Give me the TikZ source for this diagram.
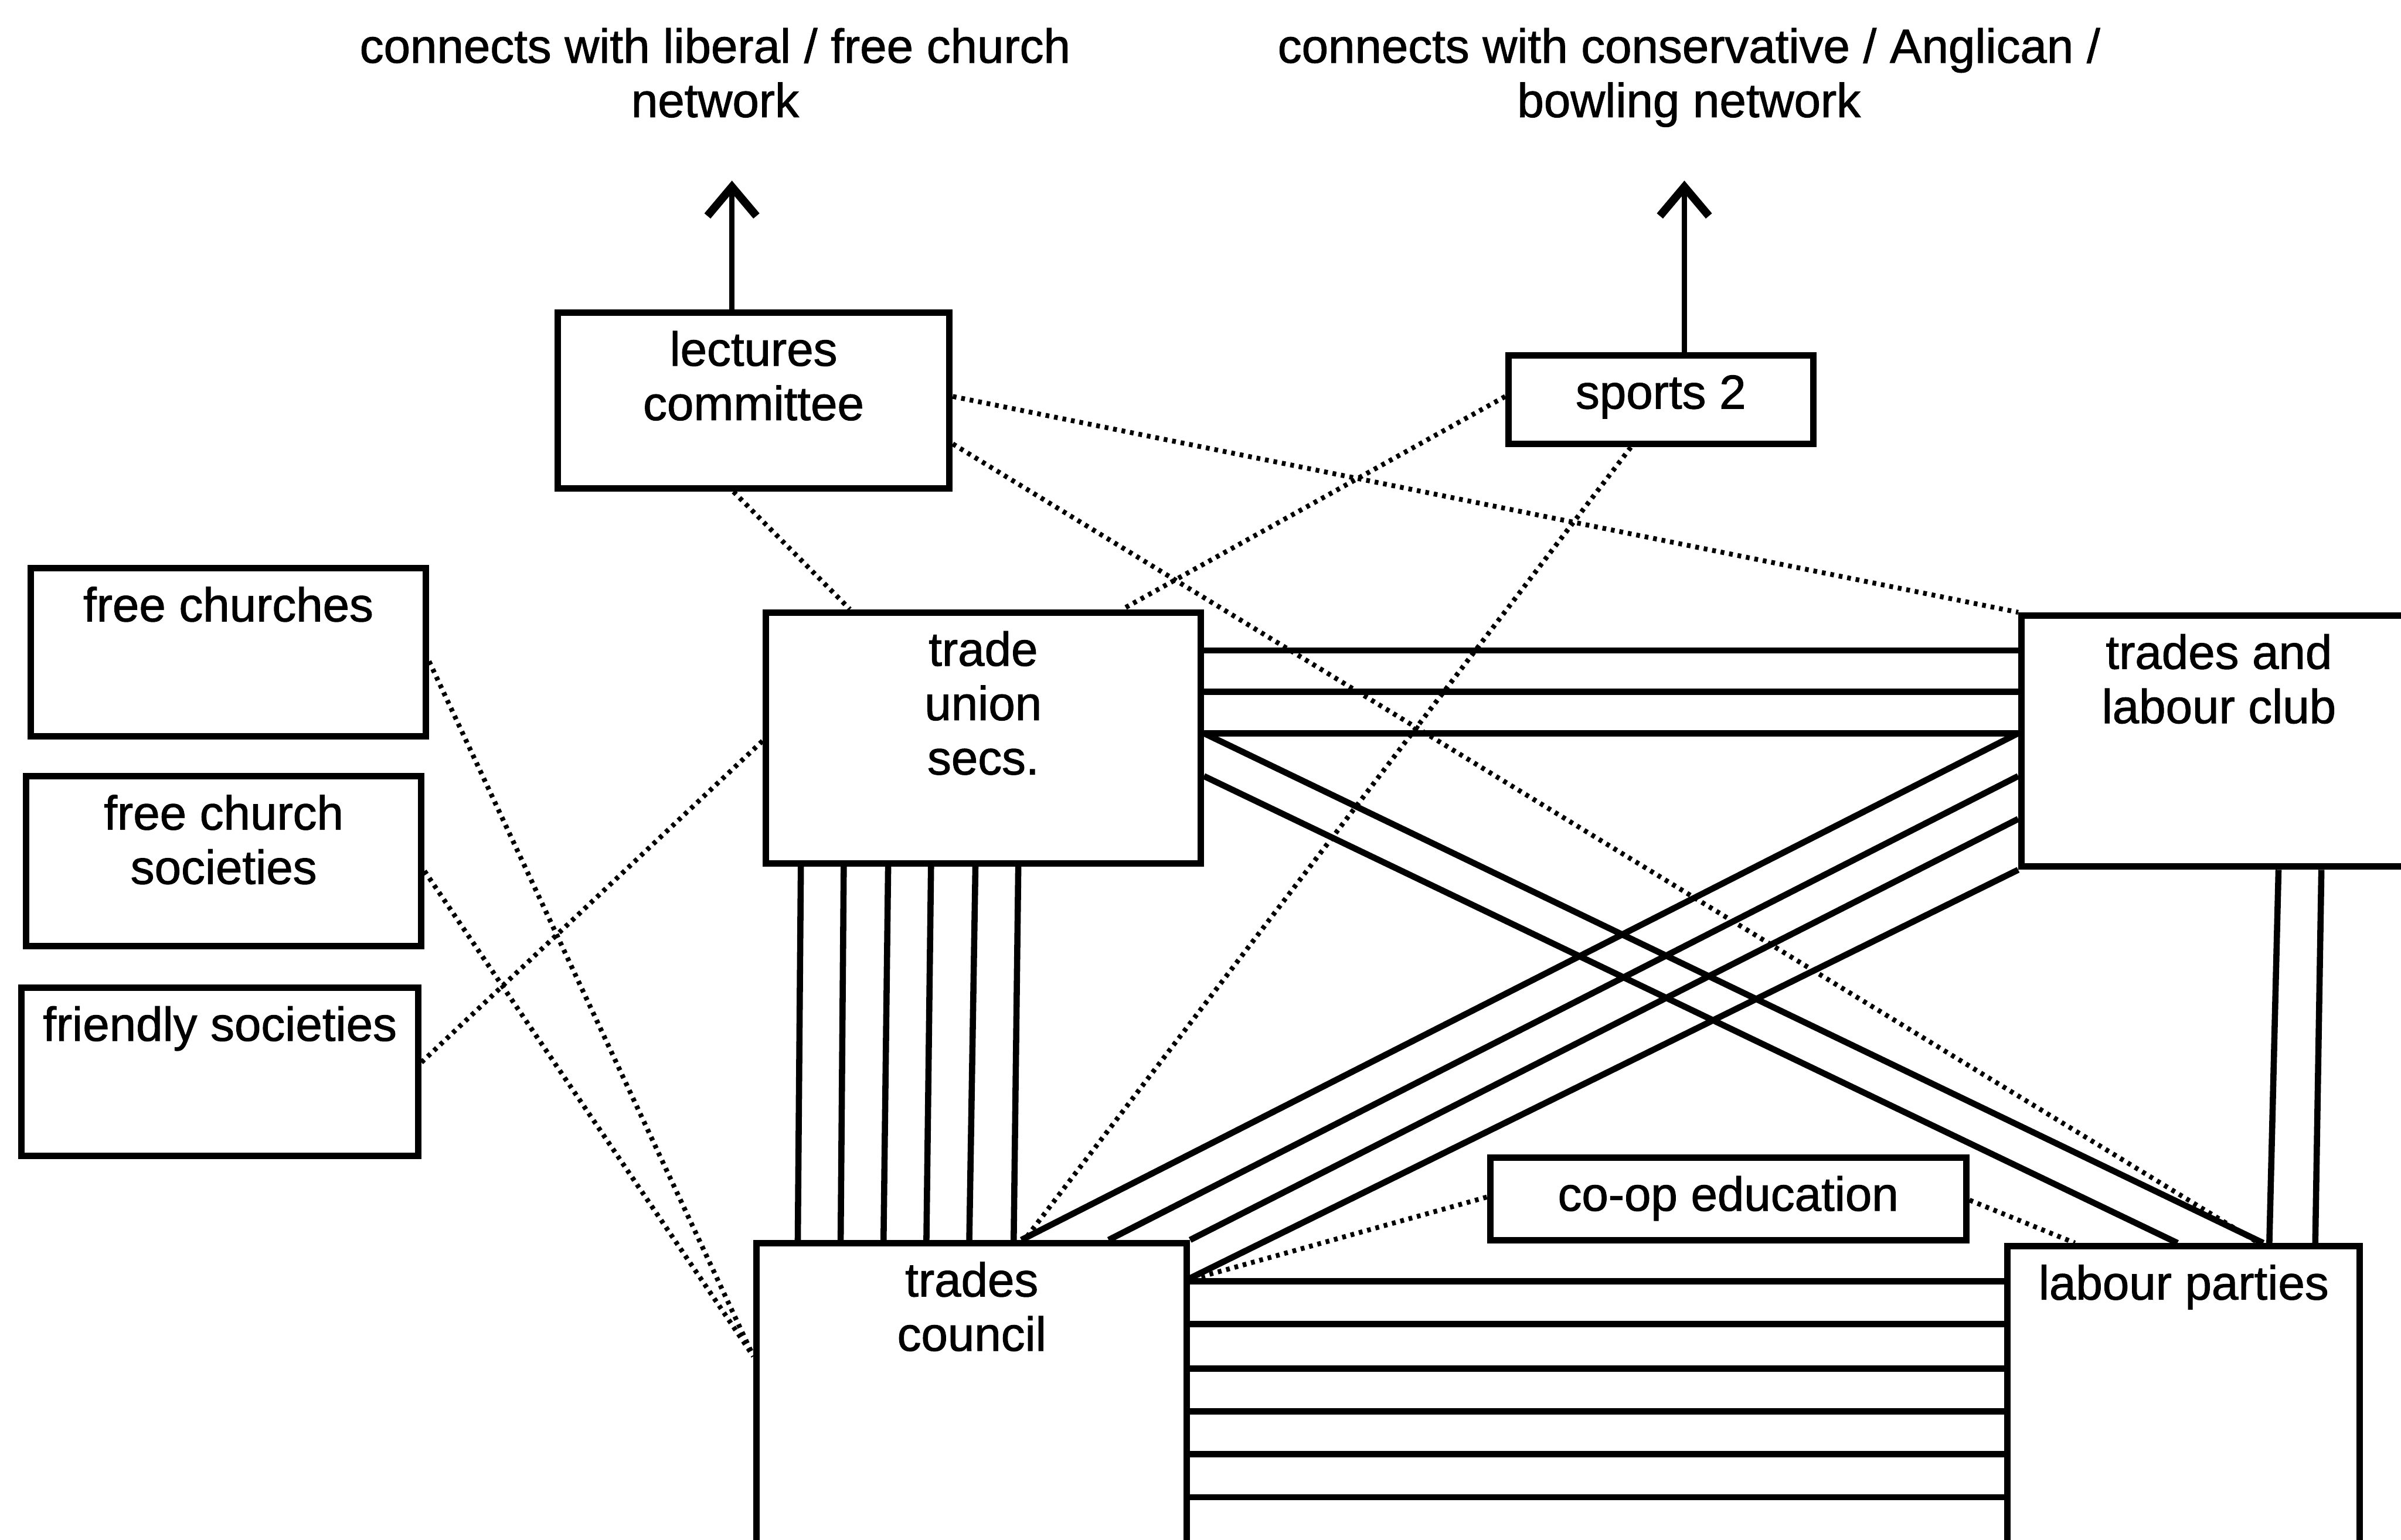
\documentclass[tikz,border=0pt]{standalone}
\usepackage{fontspec}
\setmainfont{Liberation Sans}[FakeBold=1.2]
\usetikzlibrary{calc,arrows.meta}
\newlength\pxu
\setlength\pxu{0.02cm}
% framed box body: width, height (in drawing units), text set near the top
\newcommand\boxbody[3]{\parbox[t][#2\pxu][t]{#1\pxu}{\centering\vspace*{10\pxu}\strut #3\par}}
% free-standing heading text
\newcommand\headbody[1]{\parbox[t]{14cm}{\centering\strut #1\par}}
\begin{document}
\begin{tikzpicture}[x=0.02cm, y=-0.02cm,
  font=\fontsize{17.8pt}{20.2pt}\selectfont,
  box/.style={draw, line width=2.4pt, inner sep=0pt, anchor=north west},
  head/.style={inner sep=0pt, anchor=base},
  link/.style={line width=2.3pt},
  weak/.style={line width=1.8pt, dash pattern=on 1.4pt off 1.8pt},
  outlink/.style={line width=2pt, -{Straight Barb[length=0.38cm, width=0.64cm, line width=1pt 1]}}]

\useasboundingbox (0,0) rectangle (1568,1006);
\fill[white] (0,0) rectangle (1568,1006);
\clip (0,0) rectangle (1568,1006);

% headings
\node[head] (libnet) at (467,41) {\headbody{connects with liberal / free church\\network}};
\node[head] (connet) at (1103,41) {\headbody{connects with conservative / Anglican /\\bowling network}};

% organisations
\node[box] (lec)  at (362,202)  {\boxbody{256}{115}{lectures\\committee}};
\node[box] (sp)   at (983,230)  {\boxbody{199}{58}{sports 2}};
\node[box] (fch)  at (18,369)   {\boxbody{258}{110}{free churches}};
\node[box] (fcs)  at (15,505)   {\boxbody{258}{111}{free church\\societies}};
\node[box] (frs)  at (12,643)   {\boxbody{259}{110}{friendly societies}};
\node[box] (tus)  at (498,398)  {\boxbody{284}{164}{trade\\union\\secs.}};
\node[box] (tlc)  at (1318,400) {\boxbody{258}{164}{trades and\\labour club}};
\node[box] (tc)   at (492,810)  {\boxbody{281}{210}{trades\\council}};
\node[box] (lp)   at (1309,812) {\boxbody{230}{210}{labour parties}};
\node[box] (coop) at (971,754)  {\boxbody{311}{54}{co-op education}};

% outward links to wider networks
\coordinate (libtip) at (478,118);
\coordinate (contip) at (1100,118);
\draw[outlink] (lec.north -| libtip) -- (libtip);
\draw[outlink] (sp.north -| contip) -- (contip);

% trade union secs. -- trades council
\foreach \a/\b in {25/29, 53/57, 82/85, 110/113, 139/141, 167/170}
  \draw[link] ($(tus.south west)+(\a,0)$) -- ($(tc.north west)+(\b,0)$);
% trade union secs. -- trades and labour club
\foreach \a/\b in {27/25, 54/52, 81/79}
  \draw[link] ($(tus.north east)+(0,\a)$) -- ($(tlc.north west)+(0,\b)$);
% trade union secs. -- labour parties
\draw[link] ($(tus.north east)+(0,81)$) -- ($(lp.north west)+(169,0)$);
\draw[link] ($(tus.north east)+(0,109)$) -- ($(lp.north west)+(113,0)$);
% trades and labour club -- trades council
\draw[link] ($(tlc.north west)+(0,79)$) -- ($(tc.north west)+(175,0)$);
\draw[link] ($(tlc.north west)+(0,107)$) -- ($(tc.north west)+(232,0)$);
\draw[link] ($(tlc.north west)+(0,135)$) -- (tc.north east);
\draw[link] (tlc.south west) -- ($(tc.north east)+(0,25)$);
% trades and labour club -- labour parties
\draw[link] ($(tlc.south west)+(170,0)$) -- ($(lp.north west)+(173,0)$);
\draw[link] ($(tlc.south west)+(198,0)$) -- ($(lp.north west)+(203,0)$);
% trades council -- labour parties
\foreach \a/\b in {27/25, 55/53, 84/82, 112/110, 140/138, 168/166}
  \draw[link] ($(tc.north east)+(0,\a)$) -- ($(lp.north west)+(0,\b)$);

% weaker ties
\draw[weak] ($(lec.south west)+(117,0)$) -- ($(tus.north west)+(57,0)$);
\draw[weak] ($(lec.north east)+(0,57)$) -- (tlc.north west);
\draw[weak] ($(lec.north east)+(0,88)$) -- ($(lp.north west)+(166,0)$);
\draw[weak] ($(sp.north west)+(0,29)$) -- ($(tus.north west)+(235,0)$);
\draw[weak] ($(sp.south west)+(82,0)$) -- ($(tc.north west)+(177,0)$);
\draw[weak] ($(frs.north east)+(0,51)$) -- ($(tus.north west)+(0,86)$);
\draw[weak] ($(fch.north east)+(0,63)$) -- ($(tc.north west)+(0,76)$);
\draw[weak] ($(fcs.north east)+(0,64)$) -- ($(tc.north west)+(0,76)$);
\draw[weak] ($(coop.north west)+(0,28)$) -- ($(tc.north east)+(0,26)$);
\draw[weak] ($(coop.north east)+(0,30)$) -- ($(lp.north west)+(46,0)$);
\end{tikzpicture}
\end{document}
